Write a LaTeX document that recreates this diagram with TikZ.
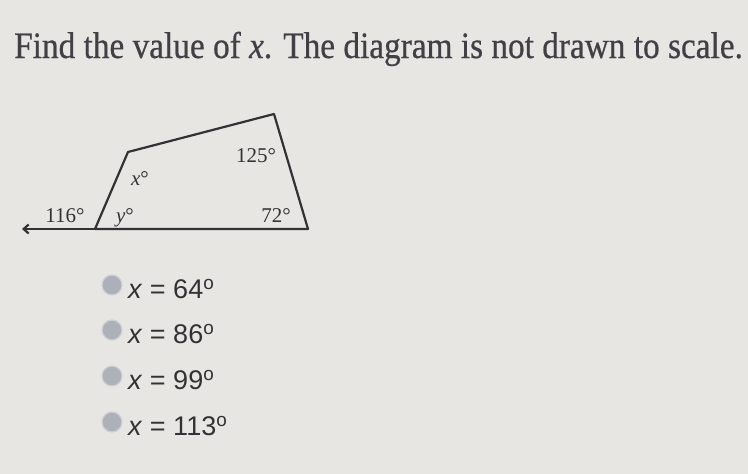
\documentclass[tikz,border=0pt]{standalone}
\usepackage{fontspec}
\setmainfont{Liberation Serif}
\newfontfamily\optfont{Liberation Sans}
\newfontfamily\titlefont[FakeBold=0.6]{Liberation Serif}
\usetikzlibrary{arrows.meta}
\definecolor{bg}{RGB}{232,230,227}
\definecolor{ink}{RGB}{50,50,52}
\definecolor{tink}{RGB}{64,64,70}
\definecolor{radio}{RGB}{172,176,184}
\begin{document}
\begin{tikzpicture}[x=1pt,y=-1pt,
  lbl/.style={font=\fontsize{21}{21}\selectfont, text=ink, inner sep=0pt, anchor=base},
  opt/.style={font=\optfont\fontsize{27}{27}\selectfont, text=ink, anchor=west, inner sep=0pt},
  rad/.style={circle, fill=radio, draw=radio!60!white, line width=1.2pt, minimum size=20pt, inner sep=0pt},
  edge/.style={draw=ink, line width=2.2pt, line join=round}]
\useasboundingbox[fill=bg] (0,0) rectangle (748,474);
\node[anchor=base west, text=tink, inner sep=0pt, font=\titlefont\fontsize{33.3}{33}\selectfont] (title) at (14,58) {\scalebox{1}[1.12]{Find the value of \textit{x}. The diagram is not drawn to scale.}};
% vertices
\coordinate (A) at (95,229);
\coordinate (B) at (128,152);
\coordinate (C) at (274,114);
\coordinate (D) at (308,229);
\coordinate (L) at (22,229);
\draw[edge] (A) -- (B) -- (C) -- (D) -- (A);
\draw[draw=ink, line width=2.2pt, -{Straight Barb[length=5pt,width=9pt]}] (A) -- (L);
\node[lbl] (a116) at (65,222) {116°};
\node[lbl] (ay) at (125,222) {\textit{y}°};
\node[lbl] (ax) at (140,185) {\textit{x}°};
\node[lbl] (a125) at (256,162) {125°};
\node[lbl] (a72) at (276,222) {72°};
% options
\node[rad] (r1) at (112,285) {};
\node[rad] (r2) at (112,330) {};
\node[rad] (r3) at (112,376) {};
\node[rad] (r4) at (112,422) {};
\node[opt] (o1) at (128,289) {\textit{x} = 64\textsuperscript{o}};
\node[opt] (o2) at (128,334) {\textit{x} = 86\textsuperscript{o}};
\node[opt] (o3) at (128,380) {\textit{x} = 99\textsuperscript{o}};
\node[opt] (o4) at (128,426) {\textit{x} = 113\textsuperscript{o}};
\end{tikzpicture}
\end{document}
